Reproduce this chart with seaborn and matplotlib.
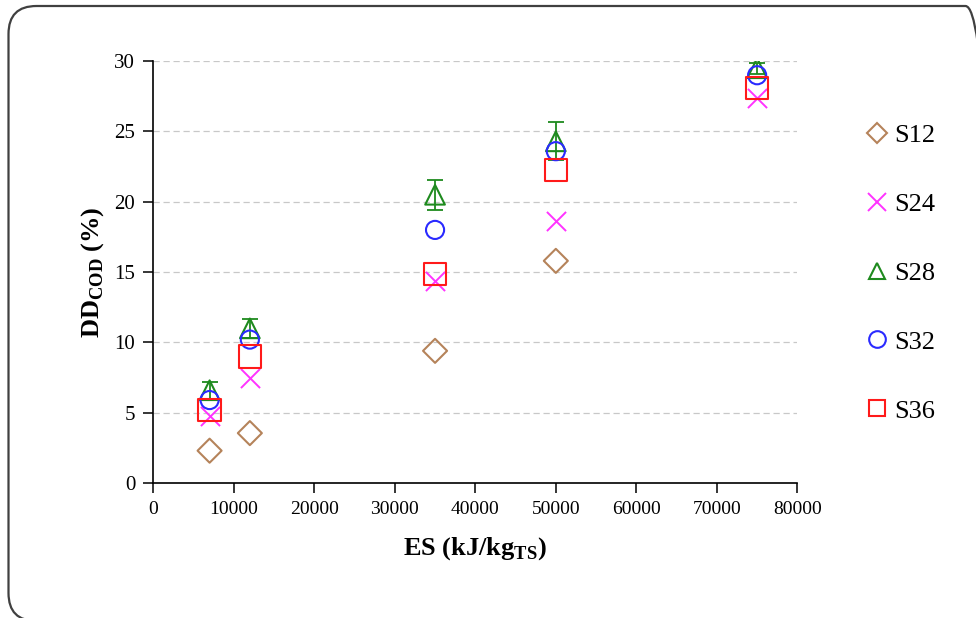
import numpy as np
import pandas as pd
import matplotlib
matplotlib.use("Agg")
import matplotlib.pyplot as plt
import seaborn as sns
from matplotlib.lines import Line2D
from matplotlib.patches import FancyBboxPatch

# ---- data ----
es_s12 = [7000, 12000, 35000, 50000]
dd_s12 = [2.3, 3.55, 9.4, 15.8]

es_all = [7000, 12000, 35000, 50000, 75000]
dd_s24 = [4.8, 7.45, 14.4, 18.6, 27.4]
dd_s28 = [6.6, 11.0, 20.5, 24.3, 29.5]
err_s28 = [0.6, 0.7, 1.05, 1.35, 0.4]
dd_s32 = [5.9, 10.2, 18.0, 23.6, 29.0]
dd_s36 = [5.2, 9.0, 14.85, 22.25, 28.1]

series_names = ["S12", "S24", "S28", "S32", "S36"]
x_ticks = [0, 10000, 20000, 30000, 40000, 50000, 60000, 70000, 80000]
y_ticks = [0, 5, 10, 15, 20, 25, 30]

sns.set_style("white")
plt.rcParams['font.family'] = ['Liberation Serif', 'DejaVu Serif']
plt.rcParams['mathtext.fontset'] = 'custom'
plt.rcParams['mathtext.rm'] = 'Liberation Serif:bold'
plt.rcParams['mathtext.bf'] = 'Liberation Serif:bold'
plt.rcParams['text.color'] = 'black'
plt.rcParams['axes.labelcolor'] = 'black'
plt.rcParams['xtick.color'] = 'black'
plt.rcParams['ytick.color'] = 'black'

colors = {"S12": "#B5835A", "S24": "#FF33FF", "S28": "#1E8A1E",
          "S32": "#2A2AFF", "S36": "#FF1A1A"}
markers = {"S12": "D", "S24": "x", "S28": "^", "S32": "o", "S36": "s"}
sizes = {"S12": 150, "S24": 190, "S28": 200, "S32": 170, "S36": 260}

fig = plt.figure(figsize=(9.76, 6.18), dpi=100)
ax = fig.add_axes([0.157, 0.2184, 0.66, 0.6826])

# border box (in inches)
fig.patches.append(FancyBboxPatch((0.085, -0.03), 9.85, 6.15,
                                  boxstyle="round,pad=0,rounding_size=0.28",
                                  transform=fig.dpi_scale_trans, facecolor="none",
                                  edgecolor="#404040", linewidth=1.6, zorder=0))

data = {"S12": (es_s12, dd_s12), "S24": (es_all, dd_s24), "S28": (es_all, dd_s28),
        "S32": (es_all, dd_s32), "S36": (es_all, dd_s36)}

# error bars for S28
ax.errorbar(es_all, dd_s28, yerr=err_s28, fmt="none", ecolor=colors["S28"],
            elinewidth=1.3, capsize=6, capthick=1.3, zorder=2)

for name in series_names:
    xs, ys = data[name]
    df = pd.DataFrame({"ES": xs, "DD": ys})
    if markers[name] == "x":
        sns.scatterplot(data=df, x="ES", y="DD", marker="x", s=sizes[name],
                        color=colors[name], linewidth=1.4, ax=ax, zorder=3)
    else:
        sns.scatterplot(data=df, x="ES", y="DD", marker=markers[name], s=sizes[name],
                        facecolor="none", edgecolor=colors[name], linewidth=1.5,
                        ax=ax, zorder=3)

ax.set_xlim(0, 80000)
ax.set_ylim(0, 30)
ax.set_xticks(x_ticks)
ax.set_yticks(y_ticks)
ax.set_xticklabels([str(t) for t in x_ticks], fontsize=14)
ax.set_yticklabels([str(t) for t in y_ticks], fontsize=15)
ax.yaxis.grid(True, linestyle=(0, (5, 3)), color="#C8C8C8", linewidth=0.9)
ax.set_axisbelow(True)
for s in ["top", "right"]:
    ax.spines[s].set_visible(False)
for s in ["left", "bottom"]:
    ax.spines[s].set_color("black")
    ax.spines[s].set_linewidth(1.2)
ax.tick_params(axis="both", direction="out", length=7, width=1.1, color="black",
               left=True, bottom=True, pad=6)

ax.set_xlabel(r"ES (kJ/kg$_{\mathrm{TS}}$)", fontsize=19, fontweight="bold", labelpad=12)
ax.set_ylabel(r"DD$_{\mathrm{COD}}$ (%)", fontsize=19, fontweight="bold", labelpad=6)

handles = []
for name in series_names:
    if markers[name] == "x":
        h = Line2D([], [], linestyle="none", marker="x", markersize=13,
                   color=colors[name], markeredgewidth=1.4)
    else:
        h = Line2D([], [], linestyle="none", marker=markers[name], markersize=12 if name != "S12" else 10,
                   markerfacecolor="none", markeredgecolor=colors[name], markeredgewidth=1.5)
    handles.append(h)
fig.legend(handles, series_names, loc="upper left", bbox_to_anchor=(0.872, 0.817),
           frameon=False, fontsize=19, labelspacing=1.72, handletextpad=0.05,
           handlelength=1.2, borderaxespad=0)

fig.savefig("out.png", dpi=100)
